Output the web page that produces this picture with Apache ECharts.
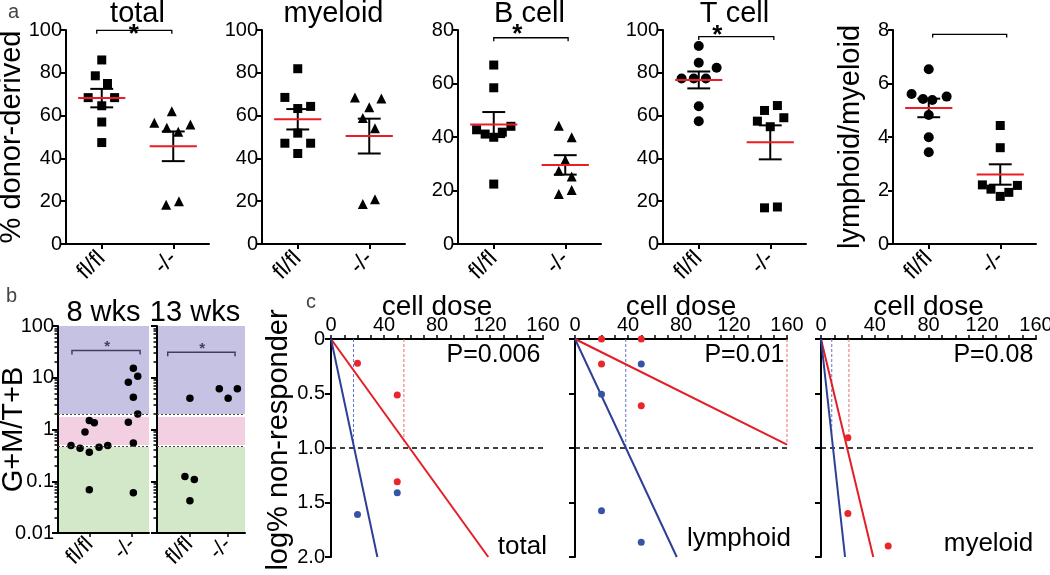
<!DOCTYPE html>
<html><head><meta charset="utf-8">
<script src="https://cdn.jsdelivr.net/npm/echarts@6/dist/echarts.min.js"></script>
<style>html,body{margin:0;padding:0;background:#fff}#c{width:1050px;height:575px}</style>
</head><body><div id="c"></div>
<script>
// ---------------- data: panel a ----------------
const groups = ['fl/fl', '-/-'];
const totalFF = [[1.0,86],[0.91,78.6],[1.08,75],[0.81,68.4],[1.18,68.4],[1.0,64.6],[1.0,57],[1.0,47.4]];
const totalKO = [[1.98,62],[1.735,56.7],[1.91,54.3],[2.07,52.5],[2.24,55.8],[1.9,18.3],[2.08,20]];
const myeloidFF = [[1.0,81.9],[0.82,68.5],[1.0,63.3],[1.18,64.3],[1.0,51.8],[0.82,47.1],[1.18,47.1],[1.0,42.3]];
const myeloidKO = [[1.8,68.5],[2.0,63.9],[1.91,58.9],[2.17,68],[2.08,54.1],[1.91,18.7],[2.08,20.9]];
const bcellFF = [[1.0,66.9],[1.0,58.4],[0.76,42.7],[0.88,41.1],[1.0,39.9],[1.12,41.8],[1.24,44],[1.0,22.4]];
const bcellKO = [[1.91,44.2],[2.09,39.9],[2.0,31.4],[1.91,27.4],[2.09,25.2],[1.91,18.7],[2.09,20.2]];
const tcellFF = [[1.0,92.5],[1.0,84.7],[1.25,82.4],[0.76,77.3],[0.93,77.3],[1.1,77.3],[1.0,64.4],[1.0,57.4]];
const tcellKO = [[1.82,57.4],[1.92,62.4],[2.1,64.7],[2.19,59],[2.0,54.8],[1.92,16.9],[2.1,17.3]];
const ratioFF = [[1.0,6.53],[0.76,5.61],[0.92,5.42],[1.05,5.38],[1.25,5.51],[1.0,4.82],[1.0,3.99],[1.0,3.43]];
const ratioKO = [[2.0,4.43],[2.0,3.6],[1.75,2.21],[1.87,2.05],[2.0,1.78],[2.12,1.93],[2.24,2.19]];
const aTitles = ['total','myeloid','B cell','T cell',''];
const aYNames = ['% donor-derived','','','','lymphoid/myeloid'];

// ---------------- data: panel b ----------------
const bTitles = ['8 wks','13 wks'];
const bTickVals = [0.01,0.1,1,10,100];
const bTickLabels = ['0.01','0.1','1','10','100'];
const bBands = [[2,100],[0.5,1.75],[0.01,0.46]];
const bDotted = [2,0.48];
const wk8FF = [[0.557,0.49],[0.77,0.435],[0.888,0.89],[0.99,1.49],[0.99,0.365],[0.99,0.0686],[1.108,1.35],[1.219,0.456],[1.425,0.49]];
const wk8KO = [[2.03,15.3],[2.134,10.7],[1.912,8.2],[2.03,4.2],[2.134,2.0],[1.912,1.38],[2.03,0.55],[2.03,0.06]];
const wk13FF = [[1.01,4.0],[0.88,0.124],[1.125,0.108],[1.01,0.042]];
const wk13KO = [[1.778,6.1],[2.01,4.0],[2.25,6.1]];

// ---------------- data: panel c ----------------
const doseLabels = [0,40,80,120,160];
const cTexts = ['total','lymphoid','myeloid'];
const cPvals = ['P=0.006','P=0.01','P=0.08'];
const cYName = 'log% non-responder';
const cRedPts = [[[20,0.223],[50,0.514],[50,1.31]], [[20,0],[50,0],[20,0.229],[50,0.612]], [[20,0.905],[20,1.6],[50,1.9]]];
const cBluePts = [[[20,1.61],[50,1.41]], [[50,0.229],[20,0.507],[20,1.575],[50,1.865]], []];
const cRedFit = [[[0,0],[118.7,2]], [[0,0],[160,0.97]], [[0,0],[38.9,2]]];
const cBlueFit = [[[0,0],[35,2]], [[0,0],[76.8,2]], [[0,0],[17.9,2]]];
const cRedDose = [[55,0.97],[160,0.97],[20.8,0.93]];
const cBlueDose = [[17,1],[38.3,1],[8,0.88]];

// ---------------- build ----------------
const FONT = '"Liberation Sans", Arial, Helvetica, sans-serif';
const BLACK = '#000';
const MEANRED = '#ec1c24';
const grids = [], xAxes = [], yAxes = [], series = [], graphics = [];

function seg(ai, yi, data, color, width, type, z) {
  series.push({type:'line', xAxisIndex:ai, yAxisIndex:yi, data:data, symbol:'none', silent:true,
    clip:false, z:z||3, lineStyle:{color:color, width:width, type:type||'solid', cap:'butt', join:'miter', opacity:1}});
}
function textAt(ai, pt, text, style) {
  series.push({type:'scatter', xAxisIndex:ai, yAxisIndex:ai, data:[pt], symbolSize:0, silent:true, clip:false, z:6,
    itemStyle:{opacity:1},
    label:Object.assign({show:true, position:'inside', formatter:text, fontFamily:FONT, color:BLACK, opacity:1,
      textBorderWidth:0}, style)});
}
function meanSem(arr) {
  const v = arr.map(p => p[1]); const n = v.length;
  const m = v.reduce((a,b)=>a+b,0)/n;
  const sd = Math.sqrt(v.reduce((a,b)=>a+(b-m)*(b-m),0)/(n-1));
  return [m, sd/Math.sqrt(n)];
}
function gtext(x, y, text, size, color, align, rot) {
  graphics.push({type:'text', x:x, y:y, rotation:rot||0, silent:true, style:{text:text, fill:color||BLACK,
    font: size + 'px ' + FONT, textAlign: align||'center', textVerticalAlign:'middle'}});
}
const axLine = {show:true, onZero:false, lineStyle:{color:BLACK, width:2}};

// panel a
const aLeft = [66,262,458,663,893];
const aMax = [100,100,80,100,8], aStep = [20,20,20,20,2];
const aNameGap = [40,0,0,0,28];
const aSyms = [['rect','triangle'],['rect','triangle'],['rect','triangle'],['circle','rect'],['circle','rect']];
const aData = [[totalFF,totalKO],[myeloidFF,myeloidKO],[bcellFF,bcellKO],[tcellFF,tcellKO],[ratioFF,ratioKO]];
const aBrackets = [[0.93,1.98,99.8,98.2],null,[1.0,2.04,77.1,75.8],[1.0,2.05,96.9,95.3],[1.055,2.09,7.84,7.72]];
const aStars = [[1.45,97.6],null,[1.33,78.1],[1.26,97.2],null];
const symSize = {rect:9, triangle:10, circle:10};

aData.forEach((pair, i) => {
  grids.push({left:aLeft[i], top:30, width:143, height:214, containLabel:false, outerBoundsMode:'none'});
  xAxes.push({gridIndex:i, type:'value', min:0.5, max:2.5, axisLine:axLine,
    axisTick:{show:true, customValues:[1,2], length:5, lineStyle:{color:BLACK, width:2}},
    axisLabel:{show:true, customValues:[1,2], rotate:45, margin:11, fontSize:23, color:BLACK, fontFamily:FONT,
      formatter: v => groups[Math.round(v)-1]},
    splitLine:{show:false}});
  yAxes.push({gridIndex:i, type:'value', min:0, max:aMax[i], interval:aStep[i], axisLine:axLine,
    axisTick:{show:true, length:5, lineStyle:{color:BLACK, width:2}},
    axisLabel:{show:true, fontSize:20, color:BLACK, margin:4, fontFamily:FONT, showMinLabel:true, showMaxLabel:true},
    splitLine:{show:false},
    name:aYNames[i], nameLocation:'middle', nameGap:aNameGap[i], nameRotate:90, nameMoveOverlap:false,
    nameTextStyle:{fontSize:29, color:BLACK, fontFamily:FONT}});
  pair.forEach((pts, g) => {
    const sym = aSyms[i][g];
    series.push({type:'scatter', xAxisIndex:i, yAxisIndex:i, data:pts, symbol:sym, symbolSize:symSize[sym],
      itemStyle:{color:BLACK, opacity:1}, z:2, silent:true});
    const ms = meanSem(pts), c = g + 1, m = ms[0], s = ms[1];
    seg(i, i, [[c, m-s],[c, m+s]], BLACK, 2, 'solid', 3);
    seg(i, i, [[c-0.16, m+s],[c+0.16, m+s]], BLACK, 2, 'solid', 3);
    seg(i, i, [[c-0.16, m-s],[c+0.16, m-s]], BLACK, 2, 'solid', 3);
    seg(i, i, [[c-0.33, m],[c+0.33, m]], MEANRED, 2, 'solid', 4);
  });
  const br = aBrackets[i];
  if (br) seg(i, i, [[br[0],br[3]],[br[0],br[2]],[br[1],br[2]],[br[1],br[3]]], BLACK, 1.3, 'solid', 3);
  if (aStars[i]) textAt(i, aStars[i], '*', {fontSize:26, fontWeight:'bold'});
  if (aTitles[i]) gtext(aLeft[i] + 71.5, 14, aTitles[i], 29);
});

// panel b
const bLeft = [58,157], bWidth = [91,88];
const bXRange = [[0.25,2.4],[0.15,2.45]];
const bData = [[wk8FF,wk8KO],[wk13FF,wk13KO]];
const bBr = [[0.58,2.19,33.5,28],[0.43,2.19,31,26]];
const bStar = [[1.41,40],[1.33,36.6]];
const bandColors = ['#c6c2e3','#f3cfe2','#d3e8c9'];
const minorVals = [];
[0.01,0.1,1,10].forEach(d => { for (let k=2;k<=9;k++) minorVals.push(+(d*k).toPrecision(2)); });
const bMinorAxis = [];
bData.forEach((pair, j) => {
  const gi = 5 + j;
  grids.push({left:bLeft[j], top:326, width:bWidth[j], height:207, containLabel:false, outerBoundsMode:'none'});
  xAxes.push({gridIndex:gi, type:'value', min:bXRange[j][0], max:bXRange[j][1], axisLine:axLine,
    axisTick:{show:true, customValues:[1,2], length:4, lineStyle:{color:BLACK, width:1.5}},
    axisLabel:{show:true, customValues:[1,2], rotate:45, margin:8, fontSize:22, color:BLACK, fontFamily:FONT,
      formatter: v => groups[Math.round(v)-1]},
    splitLine:{show:false}});
  yAxes.push({gridIndex:gi, type:'log', logBase:10, min:0.01, max:100, position:'left', axisLine:axLine,
    axisTick:{show:true, customValues:bTickVals, length:6, lineStyle:{color:BLACK, width:2}},
    axisLabel:{show:j===0, customValues:bTickVals, fontSize:20, color:BLACK, margin:4, fontFamily:FONT,
      formatter: v => bTickLabels[Math.round(Math.log10(v))+2]},
    splitLine:{show:false},
    name: j===0 ? 'G+M/T+B' : '', nameLocation:'middle', nameGap:30, nameRotate:90, nameMoveOverlap:false,
    nameTextStyle:{fontSize:29, color:BLACK, fontFamily:FONT}});
  bMinorAxis.push({gridIndex:gi, type:'log', logBase:10, min:0.01, max:100, position:'left',
    axisLine:{show:false}, axisLabel:{show:false}, splitLine:{show:false},
    axisTick:{show:true, customValues:minorVals, length:3.5, lineStyle:{color:BLACK, width:1.5}}});
  pair.forEach((pts, g) => {
    const s = {type:'scatter', xAxisIndex:gi, yAxisIndex:gi, data:pts, symbol:'circle', symbolSize:7.5,
      itemStyle:{color:BLACK, opacity:1}, z:3, silent:true};
    if (g === 0) {
      s.markArea = {silent:true, z:0, data: bBands.map((b,k) => [{yAxis:b[0], itemStyle:{color:bandColors[k], opacity:1}},{yAxis:b[1]}])};
      s.markLine = {silent:true, symbol:'none', label:{show:false},
        lineStyle:{color:'#444', width:1.2, type:[2,2]}, data: bDotted.map(v => ({yAxis:v}))};
    }
    series.push(s);
  });
  const br = bBr[j];
  seg(gi, gi, [[br[0],br[3]],[br[0],br[2]],[br[1],br[2]],[br[1],br[3]]], '#3f3f63', 1.5, 'solid', 3);
  textAt(gi, bStar[j], '*', {fontSize:15, fontWeight:'bold', color:'#3f3f63'});
});
gtext(103.5, 313, bTitles[0], 29);
gtext(195, 313, bTitles[1], 29);

// panel c
const cLeft = [331,575,821], cWidth = [212,212,215];
const RED = '#e41e26', BLUE = '#2e3f96', RED_D = '#f06a6a', BLUE_D = '#6275c8';
const cTextPos = [[163,1.91],[163,1.835],[158,1.88]];
cRedPts.forEach((reds, k) => {
  const gi = 7 + k;
  grids.push({left:cLeft[k], top:339, width:cWidth[k], height:218, containLabel:false, outerBoundsMode:'none'});
  xAxes.push({gridIndex:gi, type:'value', position:'top', min:0, max:160, interval:10, axisLine:axLine,
    axisTick:{show:true, length:4, lineStyle:{color:BLACK, width:1.5}},
    axisLabel:{show:true, fontSize:20, color:BLACK, margin:4, fontFamily:FONT, showMinLabel:true, showMaxLabel:true,
      formatter: v => (doseLabels.indexOf(v) >= 0 ? String(v) : '')},
    splitLine:{show:false}});
  yAxes.push({gridIndex:gi, type:'value', inverse:true, min:0, max:2, interval:0.5, axisLine:axLine,
    axisTick:{show:true, length:6, lineStyle:{color:BLACK, width:2}},
    axisLabel:{show:k===0, fontSize:20, color:BLACK, margin:6, fontFamily:FONT, showMinLabel:true, showMaxLabel:true,
      formatter: v => (v === 0 ? '0' : v.toFixed(1))},
    splitLine:{show:false}});
  seg(gi, gi, [[0,1],[160,1]], BLACK, 1.5, [5,4], 2);
  seg(gi, gi, [[cRedDose[k][0],0],cRedDose[k]], RED_D, 1, [3,2], 2);
  seg(gi, gi, [[cBlueDose[k][0],0],cBlueDose[k]], BLUE_D, 1, [3,2], 2);
  seg(gi, gi, cRedFit[k], RED, 2, 'solid', 3);
  seg(gi, gi, cBlueFit[k], BLUE, 2, 'solid', 3);
  series.push({type:'scatter', xAxisIndex:gi, yAxisIndex:gi, data:reds, symbol:'circle', symbolSize:7,
    itemStyle:{color:'#e8262b', opacity:1}, z:4, silent:true, clip:false});
  series.push({type:'scatter', xAxisIndex:gi, yAxisIndex:gi, data:cBluePts[k], symbol:'circle', symbolSize:7,
    itemStyle:{color:'#3654a5', opacity:1}, z:4, silent:true, clip:false});
  textAt(gi, [158,0.147], cPvals[k], {fontSize:25, align:'right'});
  textAt(gi, cTextPos[k], cTexts[k], {fontSize:26, align:'right'});
  gtext(cLeft[k] + cWidth[k]/2, 307, 'cell dose', 28);
});
bMinorAxis.forEach(a => yAxes.push(a));
gtext(279, 440, cYName, 29, BLACK, 'center', Math.PI/2);

// panel letters
gtext(8, 12, 'a', 20, '#444', 'left');
gtext(6, 296, 'b', 20, '#444', 'left');
gtext(306, 302, 'c', 20, '#444', 'left');

const chart = echarts.init(document.getElementById('c'), null, {renderer:'canvas'});
chart.setOption({
  animation:false, backgroundColor:'#fff',
  textStyle:{fontFamily:FONT},
  grid:grids, xAxis:xAxes, yAxis:yAxes, series:series, graphic:graphics
});
</script></body></html>
